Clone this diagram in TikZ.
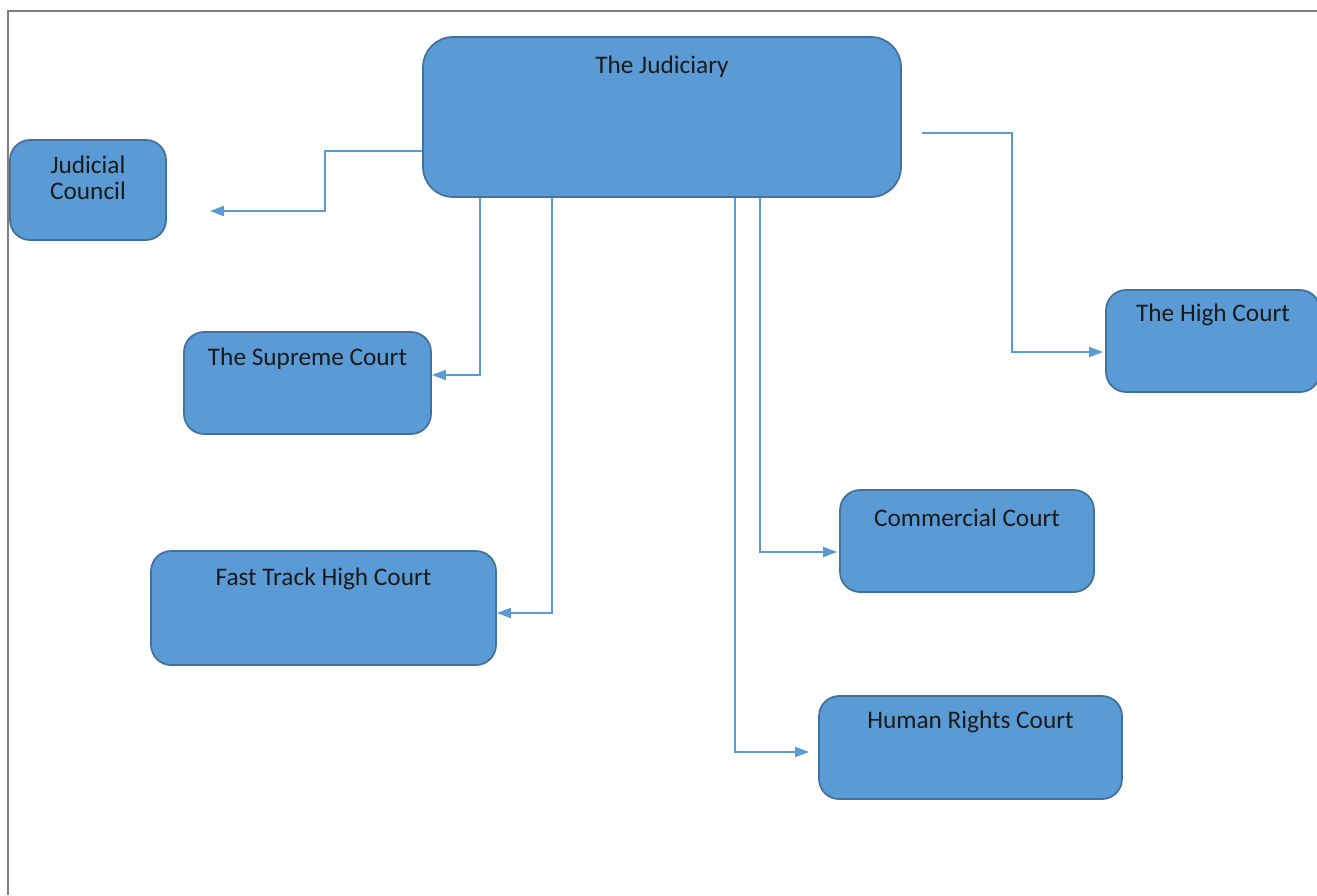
\documentclass[tikz,border=0pt]{standalone}
\usepackage{fontspec}
\setmainfont{Carlito}
\usepackage{xcolor}
\definecolor{cFill}{HTML}{5B9BD5}
\definecolor{cEdge}{HTML}{41719C}
\definecolor{cLink}{HTML}{5B9BD5}
\definecolor{cFrame}{HTML}{808080}
\definecolor{cText}{HTML}{1A1A1A}
\usepackage{tikz}
\usetikzlibrary{arrows.meta,calc}
\tikzset{
  court-box/.style={draw=cEdge,fill=cFill,line width=1pt,
    rounded corners=0.4cm,inner sep=0pt},
  court-text/.style={font=\fontsize{14.4}{14.8}\selectfont,text=cText,
    align=center,inner sep=0pt,anchor=center},
  link/.style={-{Triangle[length=0.28cm,width=0.2cm]},line width=1.1pt,draw=cLink},
  frame/.style={draw=cFrame,line width=1.1pt},
}

\begin{document}
\begin{tikzpicture}[x=0.02cm,y=-0.02cm]
  \useasboundingbox (0,0) rectangle (1317,895);
  \draw[frame] (8,895) |- (1317,11);
  % courts
  \node[court-box,rounded corners=0.6cm,minimum width=9.56cm,minimum height=3.2cm,
    label={[court-text,yshift=-0.62cm]north:The Judiciary}] (judiciary) at (662,117) {};
  \node[court-box,minimum width=3.12cm,minimum height=2cm,
    label={[court-text,yshift=-0.77cm]north:Judicial\\Council}] (council) at (88,190) {};
  \node[court-box,minimum width=4.94cm,minimum height=2.04cm,
    label={[court-text,yshift=-0.56cm]north:The Supreme Court}] (supreme) at (307.5,383) {};
  \node[court-box,minimum width=6.9cm,minimum height=2.28cm,
    label={[court-text,yshift=-0.57cm]north:Fast Track High Court}] (fasttrack) at (323.5,608) {};
  \node[court-box,minimum width=4.28cm,minimum height=2.04cm,
    label={[court-text,yshift=-0.51cm]north:The High Court}] (high) at (1213,341) {};
  \node[court-box,minimum width=5.08cm,minimum height=2.04cm,
    label={[court-text,yshift=-0.57cm]north:Commercial Court}] (commercial) at (967,541) {};
  \node[court-box,minimum width=6.06cm,minimum height=2.06cm,
    label={[court-text,yshift=-0.53cm]north:Human Rights Court}] (human) at (970.5,747.5) {};
  % links
  \coordinate (councilend) at (210,211);
  \draw[link] ($(judiciary.west)+(0,34)$) -| (325,211) -- (councilend);
  \draw[link] (judiciary.south -| 480,0) |- ($(supreme.east)+(0,-8)$);
  \draw[link] (judiciary.south -| 552,0) |- ($(fasttrack.east)+(0,5)$);
  \draw[link] (judiciary.south -| 735,0) |- ($(human.west)+(-9,4.5)$);
  \draw[link] (judiciary.south -| 760,0) |- ($(commercial.west)+(-2,11)$);
  \draw[link] ($(judiciary.east)+(20,16)$) -- (1012,133) |- ($(high.west)+(-2,11)$);
\end{tikzpicture}
\end{document}
